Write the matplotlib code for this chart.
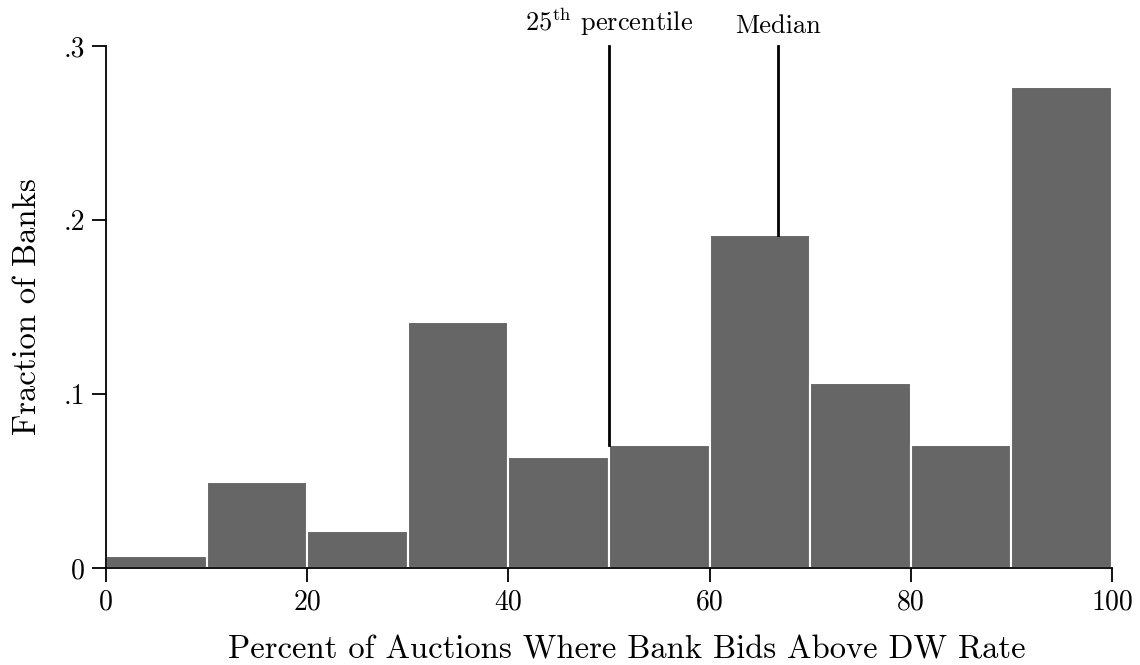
import numpy as np
import matplotlib
matplotlib.use("Agg")
import matplotlib.pyplot as plt

# Histogram bins and bar heights (fraction of banks)
bin_edges = [0, 10, 20, 30, 40, 50, 60, 70, 80, 90, 100]
fractions = [0.0069, 0.0494, 0.0213, 0.1414, 0.0638, 0.0707, 0.1914, 0.1063, 0.0707, 0.2764]

# Reference lines
marker_x = [50.0, 66.8]
marker_ymin = [0.0707, 0.1914]
marker_labels = [r"25$^{\mathrm{th}}$ percentile", "Median"]

y_ticks = [0, 0.1, 0.2, 0.3]
y_tick_labels = ["0", ".1", ".2", ".3"]
x_ticks = [0, 20, 40, 60, 80, 100]

plt.rcParams["font.family"] = ["cmr10", "DejaVu Serif"]
plt.rcParams["mathtext.fontset"] = "cm"
plt.rcParams["axes.unicode_minus"] = False

fig = plt.figure(figsize=(11.4, 6.65), dpi=100)
ax = fig.add_axes([0.093, 0.146, 0.8824, 0.785])

lefts = np.array(bin_edges[:-1])
widths = np.diff(bin_edges)
ax.bar(lefts, fractions, width=widths, align="edge", color="#666666",
       edgecolor="white", linewidth=1.5, zorder=2)

for x, ymin, lab in zip(marker_x, marker_ymin, marker_labels):
    ax.plot([x, x], [ymin, 0.3], color="black", linewidth=2, zorder=3,
            clip_on=False)
    ax.text(x, 0.3045, lab, ha="center", va="bottom", fontsize=19)

ax.set_xlim(0, 100)
ax.set_ylim(0, 0.3)
ax.set_xticks(x_ticks)
ax.set_yticks(y_ticks)
ax.set_yticklabels(y_tick_labels)
ax.tick_params(axis="both", direction="out", length=10, width=1.3,
               labelsize=20, pad=5)
for side in ["top", "right"]:
    ax.spines[side].set_visible(False)
for side in ["left", "bottom"]:
    ax.spines[side].set_linewidth(1.3)

ax.set_xlabel("Percent of Auctions Where Bank Bids Above DW Rate", fontsize=23.5)
ax.set_ylabel("Fraction of Banks", fontsize=23.5)
ax.xaxis.set_label_coords(0.518, -0.13)
ax.yaxis.set_label_coords(-0.064, 0.5)

fig.savefig("out.png", dpi=100)
